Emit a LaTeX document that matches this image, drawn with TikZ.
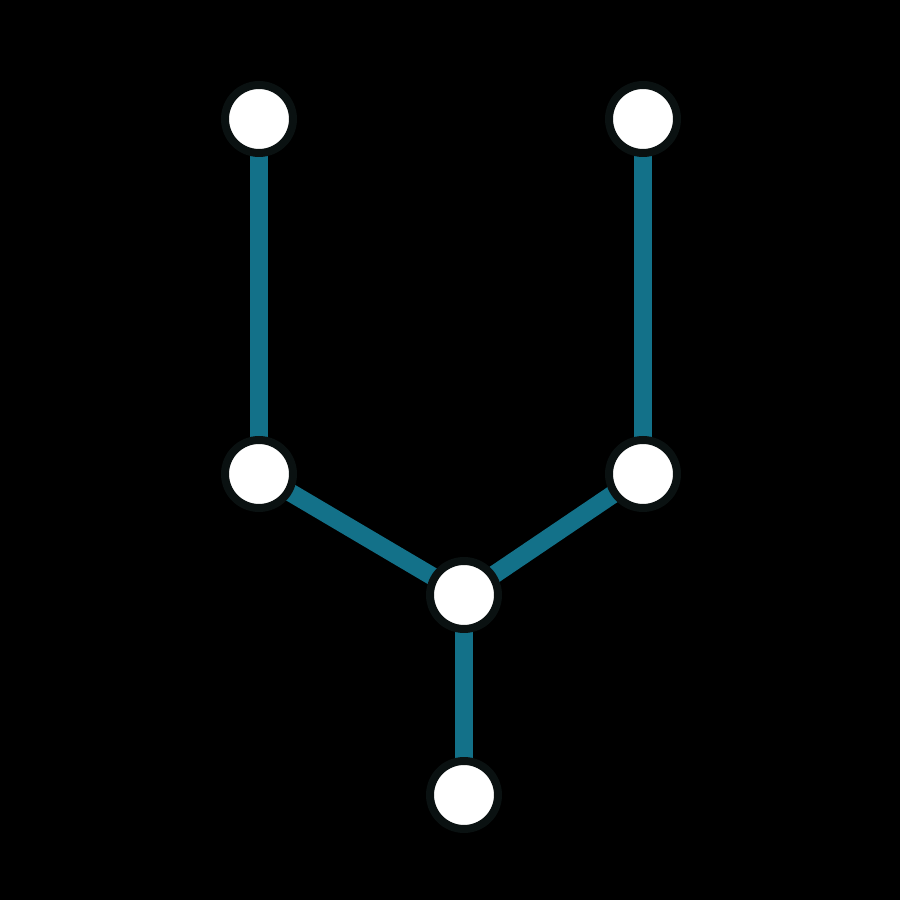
\documentclass[tikz,border=0pt]{standalone}
\definecolor{edgeteal}{HTML}{137189}
\definecolor{ringdark}{HTML}{0A1111}
\pgfdeclarelayer{bg}
\pgfdeclarelayer{edges}
\pgfsetlayers{bg,edges,main}
\begin{document}
\begin{tikzpicture}[x=0.02cm,y=0.02cm,
    vert/.style={circle,fill=white,draw=ringdark,line width=0.16cm,minimum size=1.36cm,inner sep=0pt},
    link/.style={edgeteal,line width=0.36cm}]
      \begin{pgfonlayer}{bg}
        \fill[black] (0,0) rectangle (900,900);
      \end{pgfonlayer}
      \useasboundingbox (0,0) rectangle (900,900);
      \node[vert] (tl) at (259,781) {};
      \node[vert] (tr) at (643,781) {};
      \node[vert] (ml) at (259,426) {};
      \node[vert] (mr) at (643,426) {};
      \node[vert] (c) at (464,305) {};
      \node[vert] (b) at (464,105) {};
      \begin{pgfonlayer}{edges}
        \draw[link] (tl.center) -- (ml.center);
        \draw[link] (tr.center) -- (mr.center);
        \draw[link] (ml.center) -- (c.center);
        \draw[link] (mr.center) -- (c.center);
        \draw[link] (c.center) -- (b.center);
      \end{pgfonlayer}
    \end{tikzpicture}
\end{document}
